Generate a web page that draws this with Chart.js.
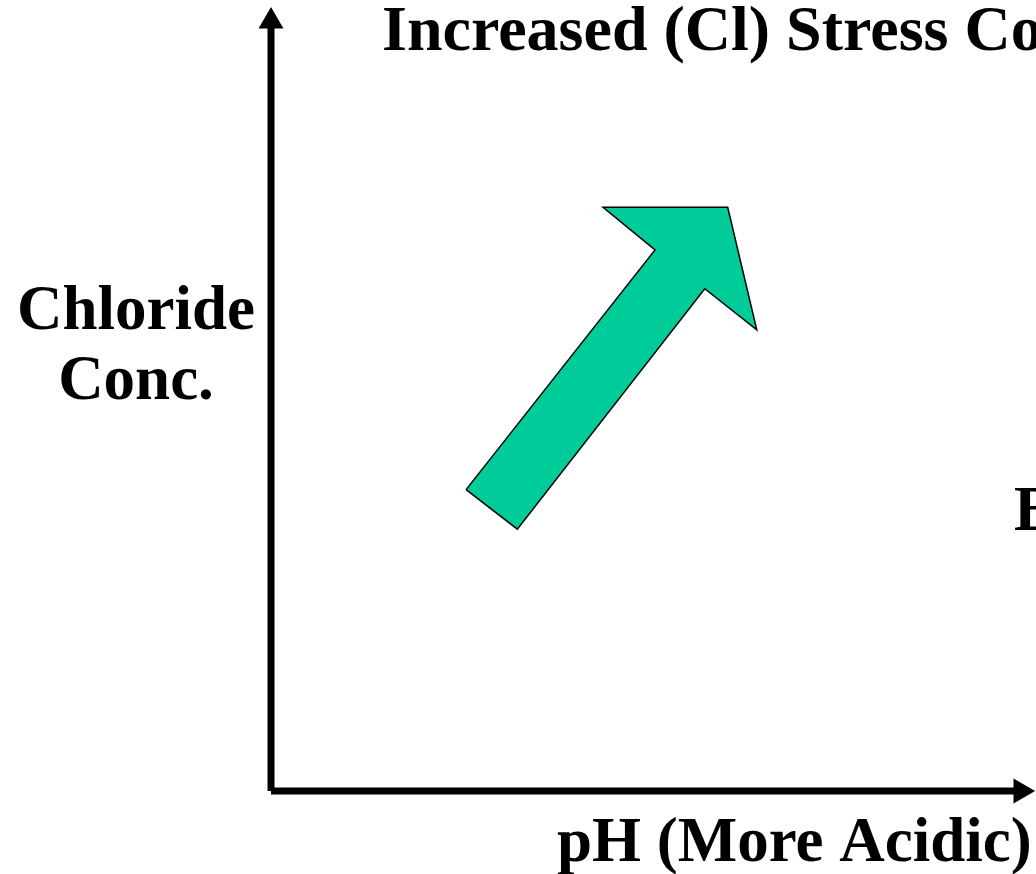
<!DOCTYPE html>
<html>
<head>
<meta charset="utf-8">
<script src="https://cdn.jsdelivr.net/npm/chart.js@4"></script>
<style>
  html, body { margin: 0; padding: 0; background: #fff; }
  canvas { display: block; }
</style>
</head>
<body>
<canvas id="chart" width="1036" height="874"></canvas>
<script>
// diagram data (0..100 on both axes)
const arrowX = [25.5, 32.2, 56.7, 63.5, 59.7, 43.4, 50.2, 25.5];
const arrowY = [38.1, 33.1, 63.5, 58.3, 73.8, 73.8, 68.4, 38.1];

const yAxisX = [0, 0];
const yAxisY = [0, 96.7];
const xAxisX = [0, 97.4];
const xAxisY = [0, 0];

const headX = [0, 98.0];
const headY = [97.3, 0];
const headRot = [0, 90];

const titleText = 'Increased (Cl) Stress Conditions';
const yLabel = ['Chloride', 'Conc.'];
const xLabel = 'pH (More Acidic)';
const sideText = 'B';

const toPoints = (xs, ys) => xs.map((x, i) => ({ x: x, y: ys[i] }));

const textPlugin = {
  id: 'texts',
  afterDraw(chart) {
    const ctx = chart.ctx;
    ctx.save();
    ctx.fillStyle = '#000';
    ctx.textBaseline = 'alphabetic';
    ctx.textAlign = 'left';
    ctx.font = 'bold 64px "Liberation Serif", "Times New Roman", serif';
    ctx.fillText(titleText, 382, 50);
    ctx.font = 'bold 63px "Liberation Serif", "Times New Roman", serif';
    ctx.fillText(xLabel, 557, 861);
    ctx.fillText(sideText, 1014, 530);
    ctx.textAlign = 'center';
    ctx.fillText(yLabel[0], 136, 329);
    ctx.fillText(yLabel[1], 136, 399);
    ctx.restore();
  }
};

new Chart(document.getElementById('chart'), {
  type: 'line',
  data: {
    datasets: [
      {
        label: 'arrow',
        data: toPoints(arrowX, arrowY),
        borderColor: '#000',
        borderWidth: 1.5,
        borderJoinStyle: 'miter',
        backgroundColor: '#00CC99',
        fill: 'shape',
        pointRadius: 0,
        tension: 0,
        clip: false
      },
      {
        label: 'y axis',
        data: toPoints(yAxisX, yAxisY),
        borderColor: '#000',
        borderWidth: 7,
        pointRadius: 0,
        fill: false,
        clip: false
      },
      {
        label: 'x axis',
        data: toPoints(xAxisX, xAxisY),
        borderColor: '#000',
        borderWidth: 7,
        pointRadius: 0,
        fill: false,
        clip: false
      },
      {
        label: 'heads',
        data: toPoints(headX, headY),
        showLine: false,
        pointStyle: 'triangle',
        pointRadius: 14.4,
        pointRotation: headRot,
        pointBackgroundColor: '#000',
        pointBorderColor: '#000',
        pointBorderWidth: 0,
        clip: false
      }
    ]
  },
  options: {
    responsive: false,
    animation: false,
    events: [],
    layout: {
      autoPadding: false,
      padding: { left: 271, right: 0, top: 0, bottom: 83 }
    },
    plugins: {
      legend: { display: false },
      tooltip: { enabled: false },
      title: { display: false }
    },
    scales: {
      x: { type: 'linear', min: 0, max: 100, display: false },
      y: { type: 'linear', min: 0, max: 100, display: false }
    }
  },
  plugins: [textPlugin]
});
</script>
</body>
</html>
